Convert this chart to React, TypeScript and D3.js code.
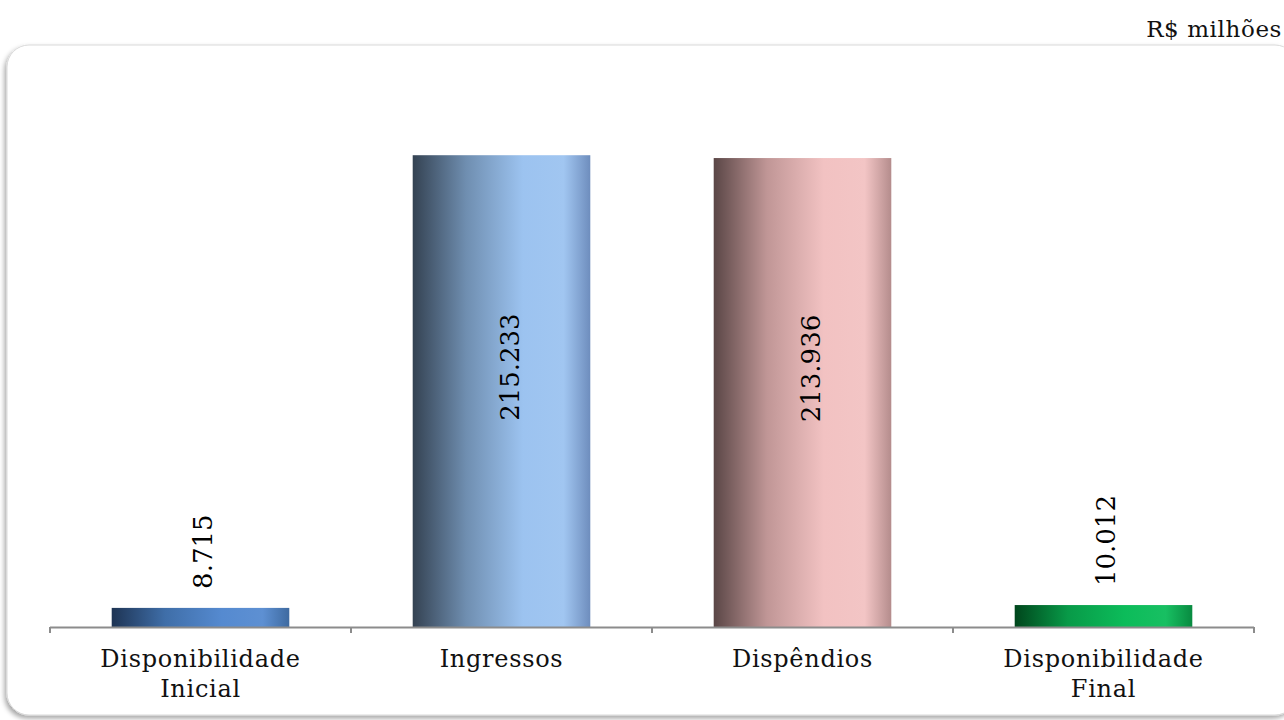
import React from "react";
import * as d3 from "d3";

const categories = ["Disponibilidade\nInicial", "Ingressos", "Dispêndios", "Disponibilidade\nFinal"];
const values = [8.715, 215.233, 213.936, 10.012];
const valueLabels = ["8.715", "215.233", "213.936", "10.012"];
const gradientStops = [
  ["#1e3454", "#3f6ea8", "#558ad0", "#3e6aa0"],
  ["#344252", "#6f8eb0", "#9cc3f0", "#6e8dbd"],
  ["#5a4646", "#c09696", "#f2c2c2", "#b48c8c"],
  ["#00461c", "#089a48", "#0cbc5a", "#088a40"],
];
const unitLabel = "R$ milhões";

export default function App() {
  const W = 1284, H = 720;
  const x0 = 50, x1 = 1254, yAxis = 627;
  const x = d3.scaleBand<string>().domain(categories).range([x0, x1]).paddingInner(0.41).paddingOuter(0.205);
  const y = d3.scaleLinear().domain([0, 250]).range([yAxis, 79]);
  const ticks = d3.range(categories.length + 1).map((i) => x0 + (i * (x1 - x0)) / categories.length);
  const font = "'DejaVu Serif', serif";
  return (
    <svg width={W} height={H} style={{ position: "absolute", left: 0, top: 0 }}>
      <defs>
        {gradientStops.map((s, i) => (
          <linearGradient key={i} id={`g${i}`} x1="0" x2="1" y1="0" y2="0">
            <stop offset="0" stopColor={s[0]} />
            <stop offset="0.3" stopColor={s[1]} />
            <stop offset="0.62" stopColor={s[2]} />
            <stop offset="0.85" stopColor={s[2]} stopOpacity={0.95} />
            <stop offset="1" stopColor={s[3]} />
          </linearGradient>
        ))}
        <filter id="sh" x="-5%" y="-5%" width="110%" height="110%">
          <feDropShadow dx="-2" dy="3" stdDeviation="2.5" floodColor="#000" floodOpacity="0.35" />
        </filter>
      </defs>
      <rect x={7} y={45} width={1290} height={670} rx={22} ry={22} fill="#fff" stroke="#d9d9d9" strokeWidth={1} filter="url(#sh)" />
      <text x={1282} y={37} textAnchor="end" fontFamily={font} fontSize={23} letterSpacing={0.6} fill="#111">{unitLabel}</text>
      {categories.map((c, i) => {
        const bx = x(c)!;
        const bw = x.bandwidth();
        const top = y(values[i]);
        const cx = bx + bw / 2;
        const tall = values[i] > 50;
        const ly = tall ? (top + yAxis) / 2 - 24 : top - 19;
        return (
          <g key={c}>
            <rect x={bx} y={top} width={bw} height={yAxis - top} fill={`url(#g${i})`} />
            <text
              transform={`translate(${cx + (tall ? 17 : 11)},${ly}) rotate(-90)`}
              textAnchor={tall ? "middle" : "start"}
              fontFamily={font}
              fontSize={26}
              fill="#000"
            >
              {valueLabels[i]}
            </text>
            {c.split("\n").map((line, j) => (
              <text key={j} x={(ticks[i] + ticks[i + 1]) / 2} y={667 + j * 30} textAnchor="middle" fontFamily={font} fontSize={24} letterSpacing={0.7} fill="#111">
                {line}
              </text>
            ))}
          </g>
        );
      })}
      <line x1={x0} x2={x1} y1={yAxis + 0.5} y2={yAxis + 0.5} stroke="#8c8c8c" strokeWidth={2} />
      {ticks.map((t, i) => (
        <line key={i} x1={t} x2={t} y1={yAxis} y2={yAxis + 6} stroke="#8c8c8c" strokeWidth={2} />
      ))}
    </svg>
  );
}
